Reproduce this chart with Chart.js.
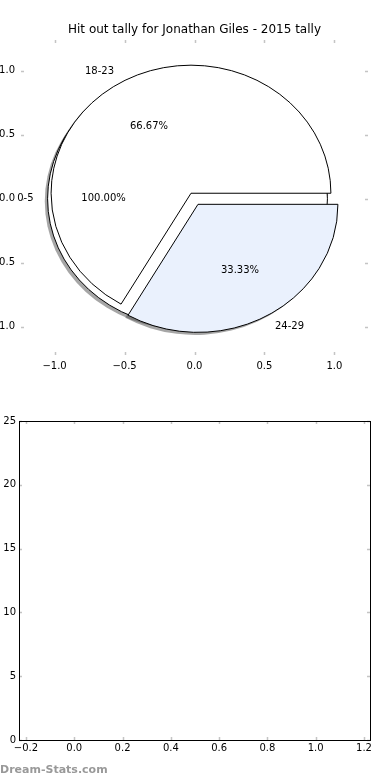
<!DOCTYPE html>
<html>
<head>
<meta charset="utf-8">
<script src="https://cdn.jsdelivr.net/npm/chart.js@4.4.1/dist/chart.umd.min.js"></script>
<style>
  html, body { margin: 0; padding: 0; background: #fff; overflow: hidden; }
  body { width: 390px; height: 780px; position: relative; }
  .box { position: absolute; left: -30px; width: 420px; height: 390px; }
  #topBox { top: 0; }
  #bottomBox { top: 390px; }
</style>
</head>
<body>
<div class="box" id="topBox"><canvas id="pieChart"></canvas></div>
<div class="box" id="bottomBox"><canvas id="emptyChart"></canvas></div>
<script>
'use strict';

// pie data (the 0-5 pie is drawn on its own, under the other one)
const firstPieLabels = ['0-5'];
const firstPieValues = [1];
const secondPieLabels = ['18-23', '24-29'];
const secondPieValues = [2, 1];

// tick labels
const pieTicks = [-1.0, -0.5, 0.0, 0.5, 1.0];
const emptyXTicks = [-0.2, 0.0, 0.2, 0.4, 0.6, 0.8, 1.0, 1.2];
const emptyYTicks = [0, 5, 10, 15, 20, 25];

const chartTitle = 'Hit out tally for Jonathan Giles - 2015 tally';

Chart.defaults.font.family = 'DejaVu Sans';
Chart.defaults.font.size = 10;
Chart.defaults.color = '#000';

const firstPieColors = ['#ffffff'];
const secondPieColors = ['#ffffff', '#eaf1fd'];
const EXPLODE = 0.05;
const SHADOW = 0.02;

function fmt(v, digits) {
  const s = Math.abs(v).toFixed(digits);
  return v < -1e-9 ? '\u2212' + s : s;
}

function setTicks(list) {
  return function (scale) {
    scale.ticks = list.map(v => ({ value: v }));
  };
}

// turn values into wedges, start at 0 degrees and go counterclockwise
function makeWedges(labels, values, colors) {
  const total = values.reduce((a, b) => a + b, 0);
  let theta = 0;
  const out = [];
  for (let i = 0; i < values.length; i++) {
    const frac = values[i] / total;
    const t1 = theta;
    const t2 = theta + frac * 2 * Math.PI;
    const mid = (t1 + t2) / 2;
    out.push({
      label: labels[i],
      pct: (frac * 100).toFixed(2) + '%',
      t1: t1, t2: t2, mid: mid,
      cx: EXPLODE * Math.cos(mid),
      cy: EXPLODE * Math.sin(mid),
      full: frac >= 0.999999,
      color: colors[i]
    });
    theta = t2;
  }
  return out;
}

// small grey ticks pointing into the axes box
const innerTicks = {
  id: 'innerTicks',
  afterDraw(chart) {
    const { ctx, chartArea: a, scales } = chart;
    ctx.save();
    ctx.strokeStyle = '#c4c4c4';
    ctx.lineWidth = 1.5;
    ctx.beginPath();
    scales.x.ticks.forEach(t => {
      const x = Math.round(scales.x.getPixelForValue(t.value)) + 0.5;
      ctx.moveTo(x, a.top); ctx.lineTo(x, a.top + 3);
      ctx.moveTo(x, a.bottom); ctx.lineTo(x, a.bottom - 3);
    });
    scales.y.ticks.forEach(t => {
      const y = Math.round(scales.y.getPixelForValue(t.value)) + 0.5;
      ctx.moveTo(a.left, y); ctx.lineTo(a.left + 3, y);
      ctx.moveTo(a.right, y); ctx.lineTo(a.right - 3, y);
    });
    ctx.stroke();
    ctx.restore();
  }
};

const pieDrawer = {
  id: 'pieDrawer',
  afterDraw(chart) {
    const { ctx, chartArea: a } = chart;
    const xs = chart.scales.x, ys = chart.scales.y;
    const rx = xs.getPixelForValue(1) - xs.getPixelForValue(0);
    const ry = ys.getPixelForValue(0) - ys.getPixelForValue(1);
    const first = makeWedges(firstPieLabels, firstPieValues, firstPieColors);
    const second = makeWedges(secondPieLabels, secondPieValues, secondPieColors);
    const all = first.concat(second);

    function wedgePath(w, dx, dy) {
      const px = xs.getPixelForValue(w.cx + dx);
      const py = ys.getPixelForValue(w.cy + dy);
      ctx.beginPath();
      if (w.full) {
        ctx.ellipse(px, py, rx, ry, 0, 0, 2 * Math.PI);
      } else {
        ctx.moveTo(px, py);
        ctx.ellipse(px, py, rx, ry, 0, -w.t1, -w.t2, true);
        ctx.closePath();
      }
    }

    ctx.save();
    // shadows first
    all.forEach(w => {
      wedgePath(w, -SHADOW, -SHADOW);
      ctx.fillStyle = 'rgba(77,77,77,0.5)';
      ctx.fill();
    });
    all.forEach(w => {
      wedgePath(w, 0, 0);
      ctx.fillStyle = w.color;
      ctx.fill();
      ctx.strokeStyle = '#000';
      ctx.lineWidth = 1;
      ctx.stroke();
    });

    // labels and percents
    ctx.fillStyle = '#000';
    ctx.font = '10px "DejaVu Sans"';
    ctx.textBaseline = 'middle';
    all.forEach(w => {
      const lx = w.cx + 1.1 * Math.cos(w.mid);
      const ly = w.cy + 1.1 * Math.sin(w.mid);
      ctx.textAlign = lx < 0 ? 'right' : 'left';
      ctx.fillText(w.label, xs.getPixelForValue(lx), ys.getPixelForValue(ly));
      const qx = w.cx + 0.6 * Math.cos(w.mid);
      const qy = w.cy + 0.6 * Math.sin(w.mid);
      ctx.textAlign = 'center';
      ctx.fillText(w.pct, xs.getPixelForValue(qx), ys.getPixelForValue(qy));
    });

    // title
    ctx.font = '12px "DejaVu Sans"';
    ctx.textAlign = 'center';
    ctx.fillText(chartTitle, (a.left + a.right) / 2, 30);
    ctx.restore();
  }
};

const frameBox = {
  id: 'frameBox',
  afterDraw(chart) {
    const { ctx, chartArea: a } = chart;
    ctx.save();
    ctx.strokeStyle = '#000';
    ctx.lineWidth = 1;
    ctx.strokeRect(Math.round(a.left) + 0.5, Math.round(a.top) + 0.5,
      Math.round(a.right - a.left), Math.round(a.bottom - a.top));
    // watermark
    ctx.fillStyle = '#999';
    ctx.font = 'bold 11px "DejaVu Sans"';
    ctx.textAlign = 'left';
    ctx.textBaseline = 'middle';
    ctx.fillText('Dream-Stats.com', 30, 380);
    ctx.restore();
  }
};

const commonPlugins = {
  legend: { display: false },
  tooltip: { enabled: false }
};

const noGrid = { display: false, drawTicks: false };

new Chart(document.getElementById('pieChart'), {
  type: 'scatter',
  data: { datasets: [] },
  options: {
    responsive: true,
    maintainAspectRatio: false,
    animation: false,
    layout: { padding: { top: 40, right: 22, left: 0, bottom: 0 } },
    plugins: commonPlugins,
    scales: {
      x: {
        min: -1.24, max: 1.24,
        grid: noGrid,
        border: { display: false },
        afterBuildTicks: setTicks(pieTicks),
        afterFit: s => { s.height = 35; },
        ticks: { padding: 5, callback: v => fmt(v, 1) }
      },
      y: {
        min: -1.22, max: 1.24,
        grid: noGrid,
        border: { display: false },
        afterBuildTicks: setTicks(pieTicks),
        afterFit: s => { s.width = 51; },
        ticks: { padding: 6, callback: v => fmt(v, 1) }
      }
    }
  },
  plugins: [innerTicks, pieDrawer]
});

new Chart(document.getElementById('emptyChart'), {
  type: 'scatter',
  data: { datasets: [] },
  options: {
    responsive: true,
    maintainAspectRatio: false,
    animation: false,
    layout: { padding: { top: 31, right: 20, left: 0, bottom: 0 } },
    plugins: commonPlugins,
    scales: {
      x: {
        min: -0.229, max: 1.225,
        grid: noGrid,
        border: { display: false },
        afterBuildTicks: setTicks(emptyXTicks),
        afterFit: s => { s.height = 40; },
        ticks: { padding: 2, callback: v => fmt(v, 1) }
      },
      y: {
        min: 0, max: 25,
        grid: noGrid,
        border: { display: false },
        afterBuildTicks: setTicks(emptyYTicks),
        afterFit: s => { s.width = 49; },
        ticks: { padding: 3, callback: v => String(v) }
      }
    }
  },
  plugins: [innerTicks, frameBox]
});
</script>
</body>
</html>
